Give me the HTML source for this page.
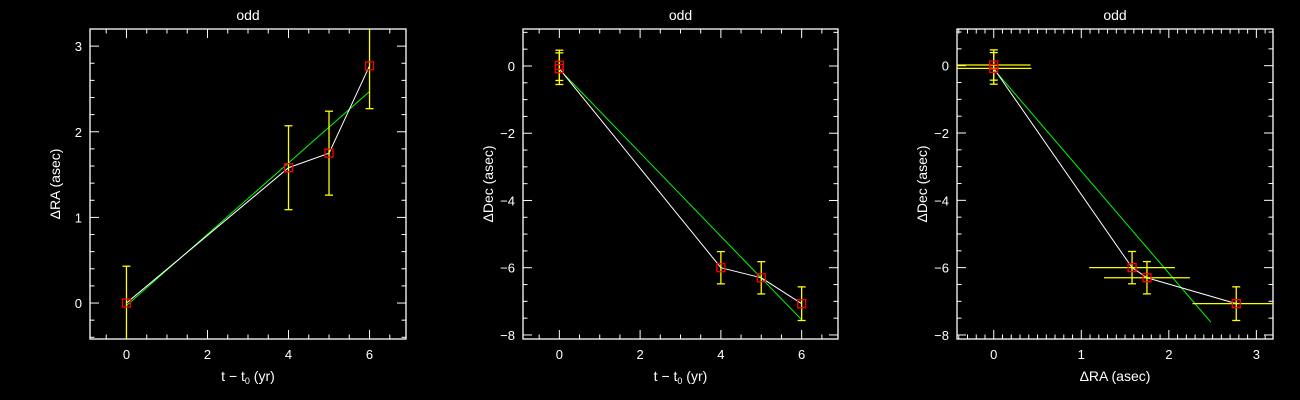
<!DOCTYPE html>
<html><head><meta charset="utf-8"><style>
html,body{margin:0;padding:0;background:#000;}
svg{display:block;font-family:"Liberation Sans","DejaVu Sans",sans-serif;}
</style></head><body>
<svg id="fig" width="1300" height="400" viewBox="0 0 1300 400"></svg>
<script>
// ---- data ----
const times = [0, 0, 4, 5, 6];
const raVals = [0.0, 0.0, 1.58, 1.75, 2.77];
const raErr = [0.42, 0.43, 0.49, 0.49, 0.5];
const decVals = [0.02, -0.08, -6.0, -6.3, -7.07];
const decErr = [0.45, 0.47, 0.48, 0.48, 0.5];
const raFitEnds = [-0.03, 2.47];
const decFitEnds = [-0.1, -7.55];
const pmFitRA = [0.0, 2.48];
const pmFitDec = [-0.1, -7.62];
const xTicksT = ["0","2","4","6"];
const yTicksRA = ["0","1","2","3"];
const yTicksDec = ["0","\u22122","\u22124","\u22126","\u22128"];
const xTicksRA = ["0","1","2","3"];

const NS="http://www.w3.org/2000/svg";
const svg=document.getElementById('fig');
function mk(tag,attrs,parent){const e=document.createElementNS(NS,tag);for(const k in attrs)e.setAttribute(k,attrs[k]);(parent||svg).appendChild(e);return e;}

function panel(name,box,xr,yr,xmaj,xmin,ymaj,ymin,xlab,ylab,xtl,ytl){
  const g=mk('g',{});
  
  
  const [L,T,R,B]=box;
  const sx=v=>L+(v-xr[0])/(xr[1]-xr[0])*(R-L);
  const sy=v=>B-(v-yr[0])/(yr[1]-yr[0])*(B-T);
  const clip='c'+name;
  const cp=mk('clipPath',{id:clip},g);mk('rect',{x:L,y:T,width:R-L,height:B-T},cp);
  const fr=mk('rect',{x:L,y:T,width:R-L,height:B-T,fill:'none',stroke:'#fff','stroke-width':1.3},g);
  
  const ax=mk('g',{stroke:'#fff','stroke-width':1},g);
  
  const eps=1e-6;
  for(let v=Math.ceil(xr[0]/xmin)*xmin;v<=xr[1]+eps;v+=xmin){
    const isMaj=Math.abs(v/xmaj-Math.round(v/xmaj))<1e-4;const len=isMaj?9:4.5;const x=sx(v);
    mk('line',{x1:x,y1:B,x2:x,y2:B-len},ax);mk('line',{x1:x,y1:T,x2:x,y2:T+len},ax);
  }
  for(let v=Math.ceil(yr[0]/ymin)*ymin;v<=yr[1]+eps;v+=ymin){
    const isMaj=Math.abs(v/ymaj-Math.round(v/ymaj))<1e-4;const len=isMaj?9:4.5;const y=sy(v);
    mk('line',{x1:L,y1:y,x2:L+len,y2:y},ax);mk('line',{x1:R,y1:y,x2:R-len,y2:y},ax);
  }
  xtl.forEach(t=>{const v=parseFloat(t.replace('\u2212','-'));const e=mk('text',{x:sx(v),y:B+20,fill:'#fff','font-size':13,'text-anchor':'middle'},g);e.textContent=t;
    });
  ytl.forEach(t=>{const v=parseFloat(t.replace('\u2212','-'));const e=mk('text',{x:L-8,y:sy(v)+5,fill:'#fff','font-size':13,'text-anchor':'end'},g);e.textContent=t;
    });
  const ti=mk('text',{x:(L+R)/2,y:20,fill:'#fff','font-size':14,'text-anchor':'middle'},g);ti.textContent='odd';
  
  const xl=mk('text',{x:(L+R)/2,y:B+42,fill:'#fff','font-size':14,'text-anchor':'middle'},g);xl.innerHTML=xlab;
  
  const yl=mk('text',{x:0,y:0,fill:'#fff','font-size':14,'text-anchor':'middle',transform:`translate(${L-30},${(T+B)/2}) rotate(-90)`},g);yl.textContent=ylab;
  
  const pg=mk('g',{'clip-path':`url(#${clip})`},g);
  return {sx,sy,pg};
}
function line(p,xs,ys,color,name){
  const e=mk('polyline',{points:xs.map((x,i)=>p.sx(x)+','+p.sy(ys[i])).join(' '),fill:'none',stroke:color,'stroke-width':1},p.pg);
  
}
function errY(p,x,y,e){
  const g=mk('g',{stroke:'#ff0','stroke-width':1.3},p.pg);
  
  const X=p.sx(x);mk('line',{x1:X,y1:p.sy(y-e),x2:X,y2:p.sy(y+e)},g);
  mk('line',{x1:X-4,y1:p.sy(y-e),x2:X+4,y2:p.sy(y-e)},g);mk('line',{x1:X-4,y1:p.sy(y+e),x2:X+4,y2:p.sy(y+e)},g);
}
function errX(p,x,y,e){
  const g=mk('line',{x1:p.sx(x-e),y1:p.sy(y),x2:p.sx(x+e),y2:p.sy(y),stroke:'#ff0','stroke-width':1.3},p.pg);
  
}
function box(p,x,y){
  const e=mk('rect',{x:p.sx(x)-4,y:p.sy(y)-4,width:8,height:8,fill:'none',stroke:'#f00','stroke-width':1.3},p.pg);
  
}

// Panel 1
const p1=panel('panel-ra-vs-time',[90,29,406,339],[-0.9,6.9],[-0.42,3.2],2,0.5,1,0.2,'t \u2212 t<tspan font-size="9" dy="3">0</tspan><tspan dy="-3"> (yr)</tspan>','\u0394RA (asec)',xTicksT,yTicksRA);
line(p1,[0,6],raFitEnds,'#0f0','fit-line');
line(p1,times.slice(1),raVals.slice(1),'#fff','data-line');
times.forEach((t,i)=>{if(i>0)errY(p1,t,raVals[i],raErr[i]);});
times.forEach((t,i)=>{if(i>0)box(p1,t,raVals[i]);});

// Panel 2
const p2=panel('panel-dec-vs-time',[523,29,838,339],[-0.9,6.9],[-8.12,1.1],2,0.5,2,0.5,'t \u2212 t<tspan font-size="9" dy="3">0</tspan><tspan dy="-3"> (yr)</tspan>','\u0394Dec (asec)',xTicksT,yTicksDec);
line(p2,[0,6],decFitEnds,'#0f0','fit-line');
line(p2,times.slice(1),decVals.slice(1),'#fff','data-line');
times.forEach((t,i)=>errY(p2,t,decVals[i],decErr[i]));
times.forEach((t,i)=>box(p2,t,decVals[i]));

// Panel 3
const p3=panel('panel-dec-vs-ra',[957,29,1273,339],[-0.42,3.19],[-8.12,1.09],1,0.1,2,0.5,'\u0394RA (asec)','\u0394Dec (asec)',xTicksRA,yTicksDec);
line(p3,pmFitRA,pmFitDec,'#0f0','fit-line');
line(p3,raVals.slice(1),decVals.slice(1),'#fff','data-line');
times.forEach((t,i)=>{errY(p3,raVals[i],decVals[i],decErr[i]);errX(p3,raVals[i],decVals[i],raErr[i]);});
times.forEach((t,i)=>box(p3,raVals[i],decVals[i]));
</script>
</body></html>
